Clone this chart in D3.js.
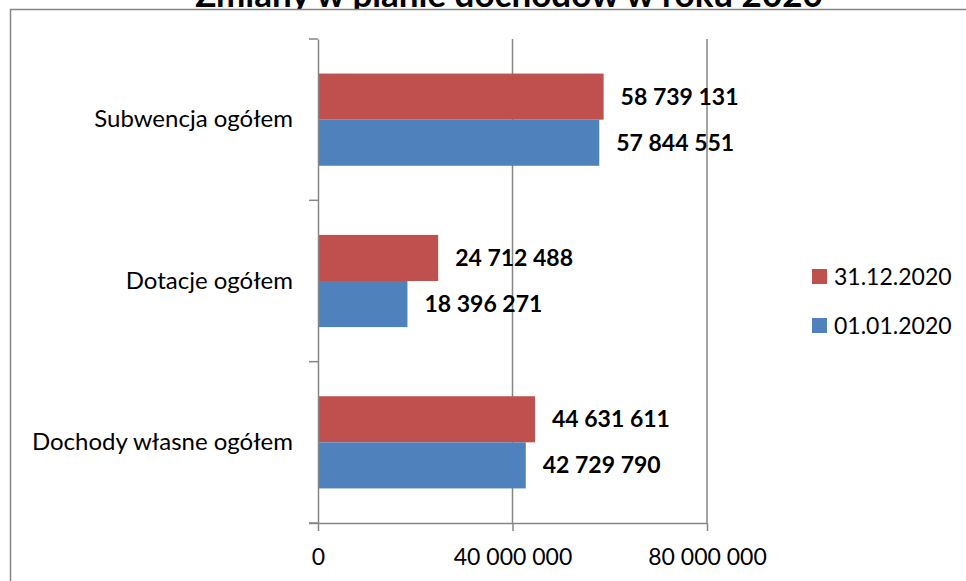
<!DOCTYPE html>
<html>
<head>
<meta charset="utf-8">
<script src="https://cdn.jsdelivr.net/npm/d3@7"></script>
<style>
  body { margin: 0; background: #fff; }
  svg { display: block; font-family: Lato, "Open Sans", sans-serif; }
</style>
</head>
<body>
<div id="chart"></div>
<script>
// categories listed top to bottom as drawn
const categories = ['Subwencja ogółem', 'Dotacje ogółem', 'Dochody własne ogółem']
const seriesNames = ['31.12.2020', '01.01.2020']
const values3112 = [58739131, 24712488, 44631611]
const values0101 = [57844551, 18396271, 42729790]
const xTicks = [0, 40000000, 80000000]
const colors = ['#C0504D', '#4F81BD']

const width = 966
const height = 581

let svg = d3.select('#chart').append('svg')
  .attr('width', width)
  .attr('height', height)

// title sits above the frame and is cut by it
svg.append('clipPath').attr('id', 'titleclip')
  .append('rect').attr('x', 0).attr('y', 0).attr('width', width).attr('height', 9)

svg.append('text')
  .attr('clip-path', 'url(#titleclip)')
  .attr('x', 509)
  .attr('y', 7)
  .attr('text-anchor', 'middle')
  .attr('font-weight', 'bold')
  .attr('font-size', 35)
  .text('Zmiany w planie dochodów w roku 2020')

// chart frame (runs off the right and bottom edge)
svg.append('path')
  .attr('d', `M10.5,${height + 2} V9.5 H${width + 2}`)
  .attr('fill', 'none')
  .attr('stroke', '#868686')
  .attr('stroke-width', 1.5)

const x = d3.scaleLinear().domain([0, 80000000]).range([318, 707])
const y = d3.scaleBand().domain(categories).range([39, 523])
const ys = d3.scaleBand().domain(seriesNames).range([0, y.bandwidth()]).paddingOuter(0.75)

const fmt = v => d3.format(',')(v).replace(/,/g, ' ')

// vertical gridlines
svg.append('g')
  .selectAll('line')
  .data(xTicks.slice(1))
  .enter().append('line')
  .attr('x1', d => x(d)).attr('x2', d => x(d))
  .attr('y1', 39).attr('y2', 523)
  .attr('stroke', '#868686')
  .attr('stroke-width', 1.5)

const rows = []
categories.forEach((c, i) => {
  rows.push({cat: c, s: seriesNames[0], v: values3112[i], color: colors[0]})
  rows.push({cat: c, s: seriesNames[1], v: values0101[i], color: colors[1]})
})

svg.append('g')
  .selectAll('rect')
  .data(rows)
  .enter().append('rect')
  .attr('x', x(0))
  .attr('y', d => y(d.cat) + ys(d.s))
  .attr('width', d => x(d.v) - x(0))
  .attr('height', ys.bandwidth())
  .attr('fill', d => d.color)

svg.append('g')
  .selectAll('text')
  .data(rows)
  .enter().append('text')
  .attr('x', d => x(d.v) + 17)
  .attr('y', d => y(d.cat) + ys(d.s) + ys.bandwidth() / 2)
  .attr('dy', '0.35em')
  .attr('font-weight', 'bold')
  .attr('font-size', 23)
  .text(d => fmt(d.v))

// x axis
let xAxis = svg.append('g')
  .attr('transform', 'translate(0,523)')
  .call(d3.axisBottom(x).tickValues(xTicks).tickSize(8).tickSizeOuter(0).tickPadding(18).tickFormat(fmt))
xAxis.select('.domain').attr('stroke', '#868686').attr('stroke-width', 1.5)
  .attr('d', 'M309,0.5 H707')
xAxis.selectAll('.tick line').attr('stroke', '#868686').attr('stroke-width', 1.5)
xAxis.selectAll('.tick text').attr('font-size', 23).attr('font-family', 'Lato, sans-serif').attr('fill', '#000')

// y axis
let yAxis = svg.append('g')
  .attr('transform', 'translate(318,0)')
  .call(d3.axisLeft(y).tickSize(0).tickPadding(25))
yAxis.select('.domain').attr('stroke', '#868686').attr('stroke-width', 1.5)
yAxis.selectAll('.tick text').attr('font-size', 24).attr('font-family', 'Lato, sans-serif').attr('fill', '#000')
yAxis.append('g')
  .selectAll('line')
  .data([39].concat(categories.map(c => y(c) + y.bandwidth())))
  .enter().append('line')
  .attr('x1', -9).attr('x2', 0)
  .attr('y1', d => d).attr('y2', d => d)
  .attr('stroke', '#868686')
  .attr('stroke-width', 1.5)

// legend
let legend = svg.append('g')
  .selectAll('g')
  .data(seriesNames)
  .enter().append('g')
  .attr('transform', (d, i) => `translate(812,${269 + i * 49})`)
legend.append('rect')
  .attr('width', 15).attr('height', 15)
  .attr('fill', (d, i) => colors[i])
legend.append('text')
  .attr('x', 22).attr('y', 8)
  .attr('dy', '0.35em')
  .attr('font-size', 23)
  .text(d => d)
</script>
</body>
</html>
